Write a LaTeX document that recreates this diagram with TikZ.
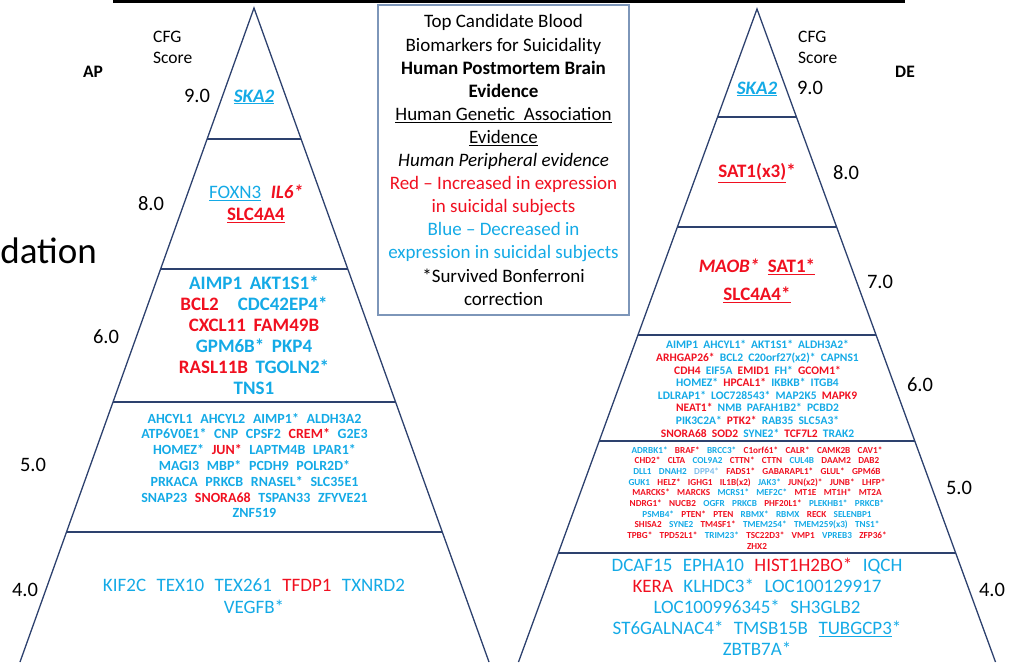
\documentclass[tikz,border=0pt]{standalone}
\usepackage{fontspec}
\setmainfont{Carlito}
\usetikzlibrary{calc}
\definecolor{rd}{RGB}{240,16,32}
\definecolor{bl}{RGB}{20,170,230}
\definecolor{lbl}{RGB}{125,190,235}
\definecolor{edgec}{RGB}{45,65,110}
\definecolor{boxedge}{RGB}{125,150,185}
\newcommand{\Rd}[1]{\textcolor{rd}{#1}}
\newcommand{\Bl}[1]{\textcolor{bl}{#1}}
\newcommand{\gapw}{0.5em}
\newcommand{\gp}{\hspace{\gapw}}
\begin{document}
\begin{tikzpicture}[x=1pt,y=-1pt,
  pyr/.style={draw=edgec, line width=1.3pt},
  lab/.style={font=\fontsize{17.5}{21}\selectfont, inner sep=0, align=left},
  labb/.style={font=\bfseries\fontsize{17.5}{21}\selectfont, inner sep=0},
  num/.style={font=\fontsize{20.5}{24}\selectfont, inner sep=0},
  gbig/.style={font={\renewcommand{\gapw}{0.4em}\bfseries\fontsize{19}{21}\selectfont}, align=center, inner sep=0},
  gtwo/.style={font={\renewcommand{\gapw}{0.5em}\bfseries\fontsize{19}{22}\selectfont}, align=center, inner sep=0},
  gmid/.style={font={\renewcommand{\gapw}{0.55em}\bfseries\fontsize{14}{15.8}\selectfont}, align=center, inner sep=0},
  greg/.style={font={\renewcommand{\gapw}{0.55em}\fontsize{19}{21.5}\selectfont}, align=center, inner sep=0},
  gsm/.style={font={\renewcommand{\gapw}{0.45em}\bfseries\fontsize{11.5}{12.6}\selectfont}, align=center, inner sep=0},
  gxs/.style={font={\renewcommand{\gapw}{0.8em}\bfseries\fontsize{9.2}{10.67}\selectfont}, align=center, inner sep=0},
  legendbox/.style={draw=boxedge, line width=1.3pt, minimum width=251pt, minimum height=310pt, inner sep=0,
    align=center, font=\fontsize{19}{23.1}\selectfont}
]
\useasboundingbox (0,0) rectangle (1015,662);
\fill[black] (113,0) rectangle (905,3);

\node[font=\fontsize{37}{40}\selectfont, anchor=base east, inner sep=0] (dat) at (97,263) {dation};

% ---------- left pyramid ----------
\coordinate (LA) at (254,8);
\coordinate (LL) at (20,662);
\coordinate (LR) at (489,662);
\draw[pyr] (LL) -- (LA) -- (LR);
\foreach \t in {0.2003,0.3991,0.6024,0.8012}
  \draw[pyr] ($(LA)!\t!(LL)$) -- ($(LA)!\t!(LR)$);

\node[lab, anchor=west] (lcfg) at (153,47.5) {CFG\\Score};
\node[labb] (lap) at (93,72) {AP};
\node[num] (l9) at (197,96) {9.0};
\node[num] (l8) at (151,204) {8.0};
\node[num] (l6) at (106,337) {6.0};
\node[num] (l5) at (33,465) {5.0};
\node[num] (l4) at (25,590) {4.0};

\node[gbig] (lt1) at (254,97) {\Bl{\underline{\textit{SKA2}}}};
\node[gtwo] (lt2) at (256,204) {\Bl{\underline{\mdseries FOXN3}}\gp\Rd{\textit{IL6*}}\\ \Rd{\underline{SLC4A4}}};
\node[gbig] (lt3) at (254,335.5) {\Bl{AIMP1}\gp\Bl{AKT1S1*}\\
  \Rd{BCL2}\hspace{1em}\Bl{CDC42EP4*}\\
  \Rd{CXCL11}\gp\Rd{FAM49B}\\
  \Bl{GPM6B*}\gp\Bl{PKP4}\\
  \Rd{RASL11B}\gp\Bl{TGOLN2*}\\
  \Bl{TNS1}};
\node[gmid] (lt4) at (254.5,465.5) {\Bl{AHCYL1}\gp\Bl{AHCYL2}\gp\Bl{AIMP1*}\gp\Bl{ALDH3A2}\\
  \Bl{ATP6V0E1*}\gp\Bl{CNP}\gp\Bl{CPSF2}\gp\Rd{CREM*}\gp\Bl{G2E3}\\
  \Bl{HOMEZ*}\gp\Rd{JUN*}\gp\Bl{LAPTM4B}\gp\Bl{LPAR1*}\\
  \Bl{MAGI3}\gp\Bl{MBP*}\gp\Bl{PCDH9}\gp\Bl{POLR2D*}\\
  \Bl{PRKACA}\gp\Bl{PRKCB}\gp\Bl{RNASEL*}\gp\Bl{SLC35E1}\\
  \Bl{SNAP23}\gp\Rd{SNORA68}\gp\Bl{TSPAN33}\gp\Bl{ZFYVE21}\\
  \Bl{ZNF519}};
\node[greg] (lt5) at (254,596) {\Bl{KIF2C}\gp\Bl{TEX10}\gp\Bl{TEX261}\gp\Rd{TFDP1}\gp\Bl{TXNRD2}\\
  \Bl{VEGFB*}};

% ---------- legend ----------
\node[legendbox] (legend) at (503.5,160) {Top Candidate Blood\\
  Biomarkers for Suicidality\\
  \textbf{Human Postmortem Brain}\\
  \textbf{Evidence}\\
  \underline{Human Genetic\ \ Association}\\
  \underline{Evidence}\\
  \textit{Human Peripheral evidence}\\
  \Rd{Red – Increased in expression}\\
  \Rd{in suicidal subjects}\\
  \Bl{Blue – Decreased in}\\
  \Bl{expression in suicidal subjects}\\
  {*}Survived Bonferroni\\
  correction};

% ---------- right pyramid ----------
\coordinate (RA) at (757,9);
\coordinate (RL) at (518.5,662);
\coordinate (RR) at (995.5,662);
\draw[pyr] (RL) -- (RA) -- (RR);
\foreach \t in {0.1654,0.3338,0.4992,0.6616,0.8331}
  \draw[pyr] ($(RA)!\t!(RL)$) -- ($(RA)!\t!(RR)$);

\node[lab, anchor=west] (rcfg) at (798,47.5) {CFG\\Score};
\node[labb] (rde) at (905,72) {DE};
\node[num] (r9) at (810,88) {9.0};
\node[num] (r8) at (846,173) {8.0};
\node[num] (r7) at (880,282) {7.0};
\node[num] (r6) at (920,385) {6.0};
\node[num] (r5) at (959,488) {5.0};
\node[num] (r4) at (992,590) {4.0};

\node[gbig] (rt1) at (757,89) {\Bl{\underline{\textit{SKA2}}}};
\node[gbig] (rt2) at (757,173) {\Rd{\underline{SAT1(x3)}*}};
\node[gbig, font={\renewcommand{\gapw}{0.45em}\bfseries\fontsize{19}{28}\selectfont}] (rt3) at (757,281)
  {\Rd{\textit{MAOB*}}\gp\Rd{\underline{SAT1*}}\\ \Rd{\underline{SLC4A4*}}};
\node[gsm] (rt4) at (757.5,389) {\Bl{AIMP1}\gp\Bl{AHCYL1*}\gp\Bl{AKT1S1*}\gp\Bl{ALDH3A2*}\\
  \Rd{ARHGAP26*}\gp\Bl{BCL2}\gp\Bl{C20orf27(x2)*}\gp\Bl{CAPNS1}\\
  \Rd{CDH4}\gp\Bl{EIF5A}\gp\Rd{EMID1}\gp\Bl{FH*}\gp\Rd{GCOM1*}\\
  \Bl{HOMEZ*}\gp\Rd{HPCAL1*}\gp\Bl{IKBKB*}\gp\Bl{ITGB4}\\
  \Bl{LDLRAP1*}\gp\Bl{LOC728543*}\gp\Bl{MAP2K5}\gp\Rd{MAPK9}\\
  \Rd{NEAT1*}\gp\Bl{NMB}\gp\Bl{PAFAH1B2*}\gp\Bl{PCBD2}\\
  \Bl{PIK3C2A*}\gp\Rd{PTK2*}\gp\Bl{RAB35}\gp\Bl{SLC5A3*}\\
  \Rd{SNORA68}\gp\Rd{SOD2}\gp\Bl{SYNE2*}\gp\Rd{TCF7L2}\gp\Bl{TRAK2}};
\node[gxs] (rt5) at (757,498) {\Bl{ADRBK1*}\gp\Rd{BRAF*}\gp\Bl{BRCC3*}\gp\Rd{C1orf61*}\gp\Rd{CALR*}\gp\Rd{CAMK2B}\gp\Rd{CAV1*}\\
  \Rd{CHD2*}\gp\Rd{CLTA}\gp\Bl{COL9A2}\gp\Rd{CTTN*}\gp\Rd{CTTN}\gp\Bl{CUL4B}\gp\Rd{DAAM2}\gp\Rd{DAB2}\\
  \Bl{DLL1}\gp\Bl{DNAH2}\gp\textcolor{lbl}{DPP4*}\gp\Rd{FADS1*}\gp\Rd{GABARAPL1*}\gp\Rd{GLUL*}\gp\Rd{GPM6B}\\
  \Bl{GUK1}\gp\Rd{HELZ*}\gp\Rd{IGHG1}\gp\Rd{IL1B(x2)}\gp\Bl{JAK3*}\gp\Rd{JUN(x2)*}\gp\Rd{JUNB*}\gp\Rd{LHFP*}\\
  \Rd{MARCKS*}\gp\Rd{MARCKS}\gp\Bl{MCRS1*}\gp\Bl{MEF2C*}\gp\Rd{MT1E}\gp\Rd{MT1H*}\gp\Rd{MT2A}\\
  \Rd{NDRG1*}\gp\Rd{NUCB2}\gp\Bl{OGFR}\gp\Bl{PRKCB}\gp\Rd{PHF20L1*}\gp\Bl{PLEKHB1*}\gp\Bl{PRKCB*}\\
  \Bl{PSMB4*}\gp\Rd{PTEN*}\gp\Rd{PTEN}\gp\Bl{RBMX*}\gp\Bl{RBMX}\gp\Rd{RECK}\gp\Bl{SELENBP1}\\
  \Rd{SHISA2}\gp\Bl{SYNE2}\gp\Rd{TM4SF1*}\gp\Bl{TMEM254*}\gp\Bl{TMEM259(x3)}\gp\Bl{TNS1*}\\
  \Rd{TPBG*}\gp\Rd{TPD52L1*}\gp\Bl{TRIM23*}\gp\Rd{TSC22D3*}\gp\Rd{VMP1}\gp\Bl{VPREB3}\gp\Rd{ZFP36*}\\
  \Rd{ZHX2}};
\node[greg, font={\renewcommand{\gapw}{0.55em}\fontsize{19}{21}\selectfont}] (rt6) at (757,607)
  {\Bl{DCAF15}\gp\Bl{EPHA10}\gp\Rd{HIST1H2BO*}\gp\Bl{IQCH}\\
  \Rd{KERA}\gp\Bl{KLHDC3*}\gp\Bl{LOC100129917}\\
  \Bl{LOC100996345*}\gp\Bl{SH3GLB2}\\
  \Bl{ST6GALNAC4*}\gp\Bl{TMSB15B}\gp\Bl{\underline{TUBGCP3}*}\\
  \Bl{ZBTB7A*}};
\end{tikzpicture}
\end{document}
